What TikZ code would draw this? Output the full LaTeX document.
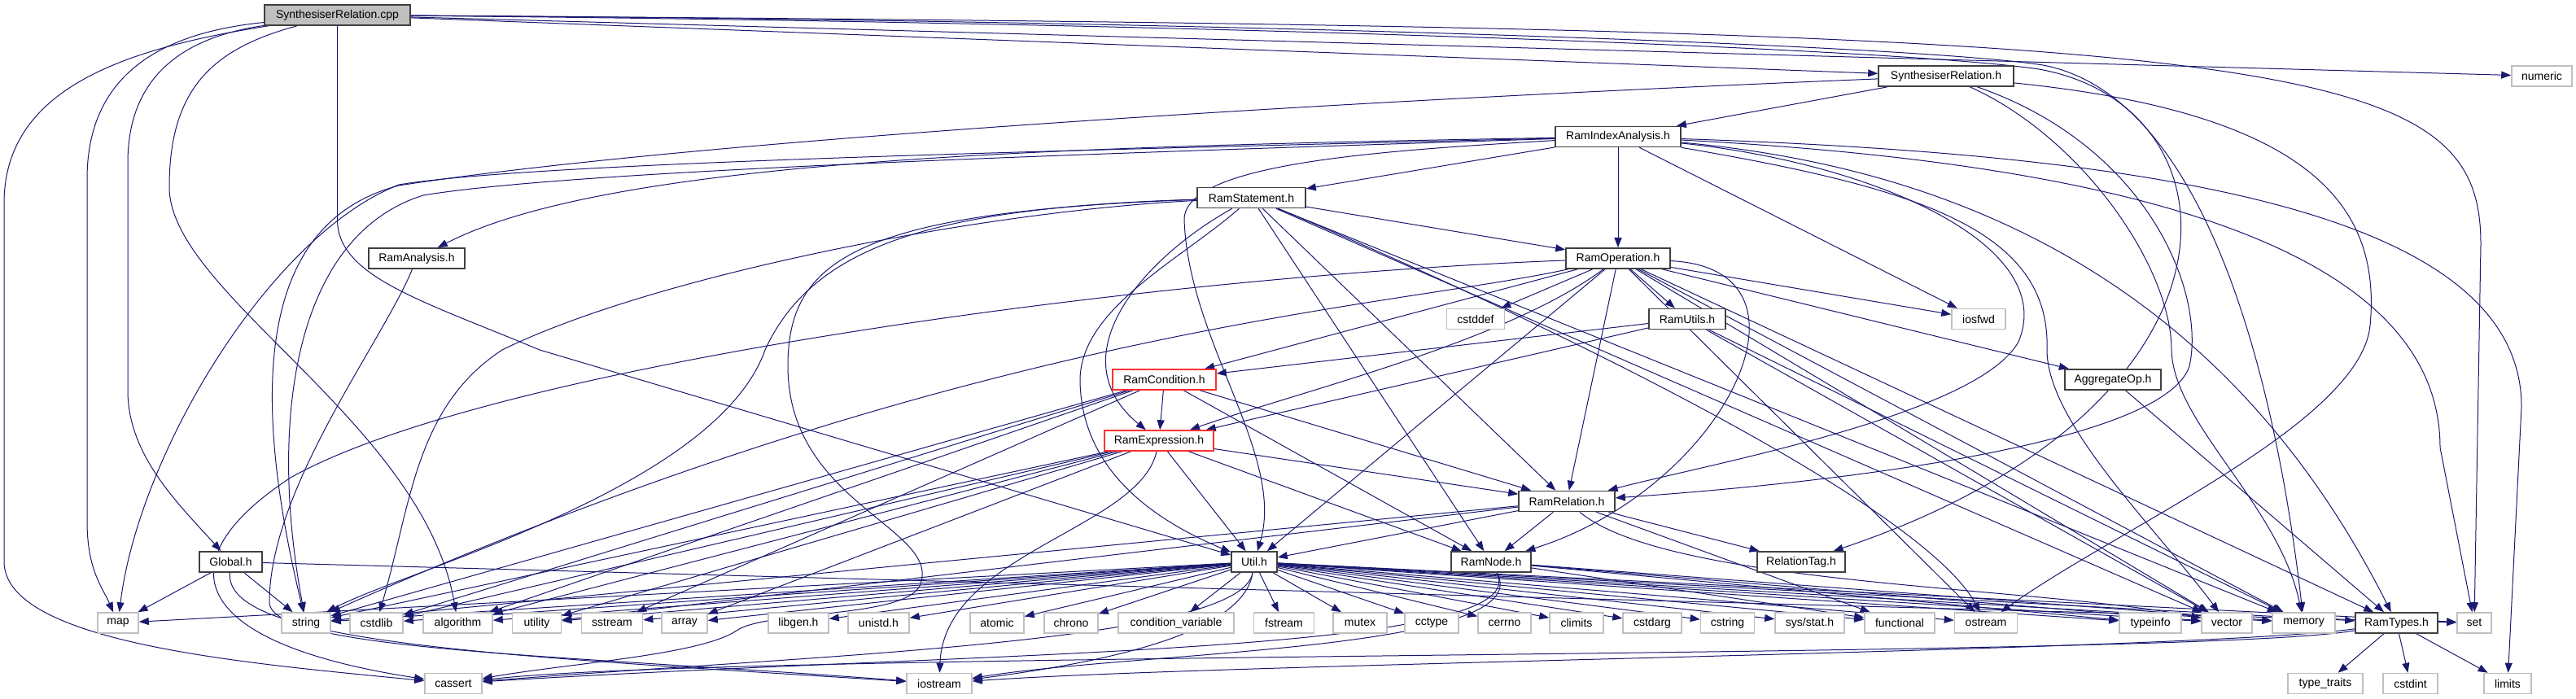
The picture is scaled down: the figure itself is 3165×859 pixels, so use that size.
\documentclass[tikz,border=0pt]{standalone}
\usepackage{fontspec}
\setmainfont{Liberation Sans}
\usetikzlibrary{arrows.meta}
\definecolor{incblue}{HTML}{191970}
\definecolor{fileborder}{HTML}{404040}
\definecolor{sysborder}{HTML}{BFBFBF}
\definecolor{rootgrey}{HTML}{BFBFBF}
\definecolor{truncred}{HTML}{FF3030}
\pgfdeclarelayer{edgelayer}
\pgfsetlayers{edgelayer,main}

\begin{document}
\begin{tikzpicture}[
    x=1pt, y=-1pt,
    hfile/.style={draw=fileborder, fill=white, line width=1.6pt,
      minimum height=25pt, inner sep=1pt,
      font=\fontsize{14}{16}\selectfont},
    rootfile/.style={hfile, fill=rootgrey},
    cutfile/.style={hfile, draw=truncred},
    sysfile/.style={hfile, draw=sysborder},
    inc/.style={draw=incblue, line width=1pt,
      -{Triangle[length=12pt, width=9pt]}}
  ]
  \useasboundingbox (0,0) rectangle (3165,859);

  \node[rootfile, minimum width=179pt] (root) at (414.5,18.5) {SynthesiserRelation.cpp};
  \node[hfile, minimum width=166pt] (synrel) at (2391,93.5) {SynthesiserRelation.h};
  \node[sysfile, minimum width=74pt] (numeric) at (3123,93.5) {numeric};
  \node[hfile, minimum width=154pt] (ramindex) at (1988,168) {RamIndexAnalysis.h};
  \node[hfile, minimum width=133pt] (ramstmt) at (1537.5,243) {RamStatement.h};
  \node[hfile, minimum width=118pt] (ramanalysis) at (512,317.5) {RamAnalysis.h};
  \node[hfile, minimum width=128pt] (ramop) at (1988,317.5) {RamOperation.h};
  \node[sysfile, minimum width=71pt] (cstddef) at (1813,392) {cstddef};
  \node[hfile, minimum width=94pt] (ramutils) at (2073,392) {RamUtils.h};
  \node[sysfile, minimum width=66pt] (iosfwd) at (2431,392) {iosfwd};
  \node[cutfile, minimum width=127pt] (ramcond) at (1430.5,466.5) {RamCondition.h};
  \node[hfile, minimum width=118pt] (aggop) at (2596,466.5) {AggregateOp.h};
  \node[cutfile, minimum width=134pt] (ramexpr) at (1424,541.5) {RamExpression.h};
  \node[hfile, minimum width=118pt] (ramrel) at (1925,616) {RamRelation.h};
  \node[hfile, minimum width=77pt] (global) at (283.5,690.5) {Global.h};
  \node[hfile, minimum width=56pt] (util) at (1541,690.5) {Util.h};
  \node[hfile, minimum width=98pt] (ramnode) at (1832,690.5) {RamNode.h};
  \node[hfile, minimum width=108pt] (reltag) at (2213,690.5) {RelationTag.h};

  \node[sysfile, minimum width=50pt] (map) at (145,765.5) {map};
  \node[sysfile, minimum width=60pt] (string) at (376,765.5) {string};
  \node[sysfile, minimum width=65pt] (cstdlib) at (462.5,765.5) {cstdlib};
  \node[sysfile, minimum width=85pt] (algorithm) at (562.5,765.5) {algorithm};
  \node[sysfile, minimum width=60pt] (utility) at (659.5,765.5) {utility};
  \node[sysfile, minimum width=75pt] (sstream) at (752,765.5) {sstream};
  \node[sysfile, minimum width=56pt] (array) at (841,765.5) {array};
  \node[sysfile, minimum width=74pt] (libgen) at (981,765.5) {libgen.h};
  \node[sysfile, minimum width=75pt] (unistd) at (1079.5,765.5) {unistd.h};
  \node[sysfile, minimum width=66pt] (atomic) at (1225,765.5) {atomic};
  \node[sysfile, minimum width=66pt] (chrono) at (1316,765.5) {chrono};
  \node[sysfile, minimum width=142pt] (condvar) at (1445,765.5) {condition\_variable};
  \node[sysfile, minimum width=74pt] (fstream) at (1577.5,765.5) {fstream};
  \node[sysfile, minimum width=66pt] (mutex) at (1671,765.5) {mutex};
  \node[sysfile, minimum width=66pt] (cctype) at (1759,765.5) {cctype};
  \node[sysfile, minimum width=65pt] (cerrno) at (1848.5,765.5) {cerrno};
  \node[sysfile, minimum width=66pt] (climits) at (1937,765.5) {climits};
  \node[sysfile, minimum width=72pt] (cstdarg) at (2030,765.5) {cstdarg};
  \node[sysfile, minimum width=66pt] (cstring) at (2122.5,765.5) {cstring};
  \node[sysfile, minimum width=85pt] (sysstat) at (2223.5,765.5) {sys/stat.h};
  \node[sysfile, minimum width=86pt] (functional) at (2334,765.5) {functional};
  \node[sysfile, minimum width=77pt] (ostream) at (2440,765.5) {ostream};
  \node[sysfile, minimum width=76pt] (typeinfo) at (2642,765.5) {typeinfo};
  \node[sysfile, minimum width=62pt] (vector) at (2736,765.5) {vector};
  \node[sysfile, minimum width=77pt] (memory) at (2830.5,765.5) {memory};
  \node[hfile, minimum width=101pt] (ramtypes) at (2944.5,765.5) {RamTypes.h};
  \node[sysfile, minimum width=42pt] (set) at (3040,765.5) {set};

  \node[sysfile, minimum width=70pt] (cassert) at (557,840) {cassert};
  \node[sysfile, minimum width=80pt] (iostream) at (1154,840) {iostream};
  \node[sysfile, minimum width=92pt] (typetraits) at (2857,840) {type\_traits};
  \node[sysfile, minimum width=67pt] (cstdint) at (2961.5,840) {cstdint};
  \node[sysfile, minimum width=58pt] (limits) at (3081,840) {limits};

  \begin{pgfonlayer}{edgelayer}
    \draw[inc] (root) -- (synrel);
    \draw[inc] (root) -- (numeric);
    \draw[inc] (root) .. controls (2800,35) and (3048,60) .. (3048,300) -- (set);
    \draw[inc] (root) .. controls (1500,28) and (2340,60) .. (2505,85)
      .. controls (2760,130) and (2780,500) .. (reltag);
    \draw[inc] (root) .. controls (1500,25) and (2350,55) .. (2510,80)
      .. controls (2720,120) and (2800,500) .. (memory);
    \draw[inc] (root) -- (414.5,270) .. controls (414.5,340) and (520,370) .. (663,430) -- (util);
    \draw[inc] (root) .. controls (230,45) and (157,90) .. (157,200) -- (157,480)
      .. controls (157,560) and (220,620) .. (global);
    \draw[inc] (root) .. controls (200,40) and (107,90) .. (107,220) -- (107,640)
      .. controls (107,700) and (125,720) .. (map);
    \draw[inc] (root) .. controls (150,60) and (5,110) .. (5,250) -- (5,690)
      .. controls (5,790) and (300,815) .. (cassert);
    \draw[inc] (root) .. controls (260,60) and (208,110) .. (208,230)
      .. controls (208,360) and (520,520) .. (algorithm);

    \draw[inc] (synrel) -- (ramindex);
    \draw[inc] (synrel) .. controls (1500,130) and (800,180) .. (490,228)
      .. controls (330,270) and (300,450) .. (string);
    \draw[inc] (synrel) .. controls (2640,180) and (2710,360) .. (2690,450)
      .. controls (2660,540) and (2300,590) .. (ramrel);
    \draw[inc] (synrel) .. controls (2560,170) and (2668,330) .. (2668,430)
      .. controls (2670,520) and (2800,620) .. (memory);
    \draw[inc] (synrel) .. controls (2850,140) and (2925,260) .. (2912,400)
      .. controls (2900,520) and (2600,650) .. (ostream);

    \draw[inc] (ramindex) -- (ramstmt);
    \draw[inc] (ramindex) -- (ramop);
    \draw[inc] (ramindex) -- (iosfwd);
    \draw[inc] (ramindex) .. controls (1300,180) and (750,195) .. (ramanalysis);
    \draw[inc] (ramindex) .. controls (1300,185) and (650,200) .. (490,227)
      .. controls (330,290) and (170,560) .. (map);
    \draw[inc] (ramindex) .. controls (1300,190) and (700,210) .. (520,240)
      .. controls (360,290) and (330,520) .. (string);
    \draw[inc] (ramindex) .. controls (1700,185) and (1455,200) .. (1455,270)
      .. controls (1460,420) and (1580,560) .. (util);
    \draw[inc] (ramindex) .. controls (2300,200) and (2530,300) .. (2480,420)
      .. controls (2430,510) and (2100,570) .. (ramrel);
    \draw[inc] (ramindex) .. controls (2450,210) and (2750,380) .. (ramtypes);
    \draw[inc] (ramindex) .. controls (2350,230) and (2520,280) .. (2515,430)
      .. controls (2515,520) and (2650,650) .. (vector);
    \draw[inc] (ramindex) .. controls (2600,200) and (2998,300) .. (2998,550) -- (set);
    \draw[inc] (ramindex) .. controls (2650,190) and (3098,260) .. (3098,500) -- (limits);

    \draw[inc] (ramanalysis) .. controls (470,420) and (331,600) .. (331,740)
      .. controls (331,800) and (700,805) .. (iostream);

    \draw[inc] (ramstmt) -- (ramop);
    \draw[inc] (ramstmt) .. controls (1400,320) and (1300,440) .. (ramexpr);
    \draw[inc] (ramstmt) .. controls (1450,320) and (1325,380) .. (1327,470)
      .. controls (1330,580) and (1420,640) .. (util);
    \foreach \dst in {ramnode,ramrel,memory,vector}
      \draw[inc] (ramstmt) -- (\dst);
    \draw[inc] (ramstmt) .. controls (1750,330) and (2350,600) .. (ostream);
    \draw[inc] (ramstmt) .. controls (1200,260) and (800,340) .. (617,430)
      .. controls (510,500) and (505,620) .. (cstdlib);
    \draw[inc] (ramstmt) .. controls (1150,255) and (1000,300) .. (940,430)
      .. controls (880,600) and (500,700) .. (string);
    \draw[inc] (ramstmt) .. controls (1050,260) and (968,320) .. (968,450)
      .. controls (968,620) and (1160,650) .. (1130,720)
      .. controls (1110,760) and (940,750) .. (905,775)
      .. controls (860,805) and (700,815) .. (cassert);

    \foreach \dst in {cstddef,ramutils,aggop,iosfwd,ramcond,ramrel,util,ramtypes,vector,memory,ostream}
      \draw[inc] (ramop) -- (\dst);
    \draw[inc] (ramop) .. controls (1850,420) and (1600,480) .. (ramexpr);
    \draw[inc] (ramop) .. controls (2250,330) and (2120,600) .. (ramnode);
    \draw[inc] (ramop) .. controls (1700,380) and (1200,400) .. (string);
    \draw[inc] (ramop) .. controls (1400,340) and (600,450) .. (357,587)
      .. controls (200,690) and (230,790) .. (cassert);

    \foreach \dst in {ramcond,ramexpr,vector,memory}
      \draw[inc] (ramutils) -- (\dst);
    \draw[inc] (aggop) -- (ramtypes);

    \foreach \dst in {ramexpr,ramrel,ramnode,string,cstdlib,algorithm,sstream}
      \draw[inc] (ramcond) -- (\dst);

    \foreach \dst in {util,ramrel,ramnode,string,cstdlib,algorithm,array,utility}
      \draw[inc] (ramexpr) -- (\dst);
    \draw[inc] (ramexpr) .. controls (1400,650) and (1160,680) .. (iostream);

    \foreach \dst in {util,ramnode,reltag,string,utility,functional}
      \draw[inc] (ramrel) -- (\dst);
    \draw[inc] (ramrel) .. controls (2050,720) and (2500,720) .. (vector);

    \foreach \dst in {map,string,set}
      \draw[inc] (global) -- (\dst);
    \draw[inc] (global) .. controls (275,790) and (600,805) .. (iostream);

    \foreach \dst in {map,string,cstdlib,algorithm,utility,sstream,array,libgen,unistd,atomic,chrono,condvar,fstream,mutex,cctype,cerrno,climits,cstdarg,cstring,sysstat,functional,ostream,typeinfo,vector,memory,ramtypes,set}
      \draw[inc] (util) -- (\dst);
    \draw[inc] (util) .. controls (1528,780) and (1350,815) .. (iostream);
    \draw[inc] (util) .. controls (1526,790) and (1000,805) .. (cassert);

    \foreach \dst in {functional,typeinfo,vector,memory}
      \draw[inc] (ramnode) -- (\dst);
    \draw[inc] (ramnode) .. controls (1892,800) and (1400,800) .. (iostream);
    \draw[inc] (ramnode) .. controls (1892,805) and (1200,800) .. (cassert);

    \foreach \dst in {typetraits,cstdint,limits}
      \draw[inc] (ramtypes) -- (\dst);
    \draw[inc] (ramtypes) .. controls (2700,800) and (1500,815) .. (iostream);
    \draw[inc] (ramtypes) .. controls (2700,810) and (900,800) .. (cassert);
  \end{pgfonlayer}
\end{tikzpicture}
\end{document}
